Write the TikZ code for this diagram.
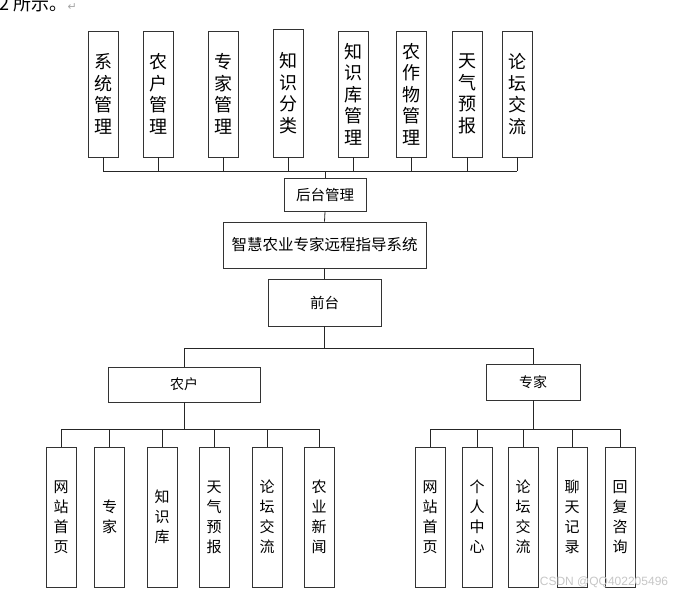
\documentclass[tikz,border=0pt]{standalone}
\usepackage{fontspec}
\newfontfamily\cjk{Noto Sans CJK SC}
\newfontfamily\dejavu{DejaVu Sans}
\setsansfont{Liberation Sans}
\begin{document}
\begin{tikzpicture}[x=1pt,y=-1pt,
  box/.style={draw=black!80, line width=0.8pt, inner sep=0pt, align=center},
  tall/.style={box, minimum width=30pt, minimum height=126pt, font=\cjk\fontsize{18}{21.5}\selectfont},
  low/.style={box, minimum width=30pt, minimum height=140pt, font=\cjk\fontsize{15}{20}\selectfont},
  mid/.style={box, font=\cjk\fontsize{14.5}{16}\selectfont},
  ln/.style={draw=black!85, line width=0.8pt}]
\useasboundingbox (0,0) rectangle (684,596);
% fragment of preceding text
\node[anchor=base west, inner sep=0pt, font=\cjk\fontsize{18}{20}\selectfont] (frag) at (-1,11) {2 所示。};
\node[anchor=base west, inner sep=0pt, font=\dejavu\fontsize{11}{12}\selectfont, text=gray!70] (ret) at (frag.base east) {↵};
% top modules
\node[tall] (t1) at (103,94) {系\\统\\管\\理};
\node[tall] (t2) at (158,94) {农\\户\\管\\理};
\node[tall] (t3) at (223,94) {专\\家\\管\\理};
\node[tall, minimum height=128pt] (t4) at (288,93) {知\\识\\分\\类};
\node[tall] (t5) at (353,94) {知\\识\\库\\管\\理};
\node[tall] (t6) at (411,94) {农\\作\\物\\管\\理};
\node[tall] (t7) at (467,94) {天\\气\\预\\报};
\node[tall] (t8) at (517,94) {论\\坛\\交\\流};
% middle
\node[mid, minimum width=82pt, minimum height=33pt] (ht) at (325,194.5) {后台管理};
\node[mid, minimum width=203pt, minimum height=46pt, font=\cjk\fontsize{15.5}{17}\selectfont] (zh) at (324.5,245) {智慧农业专家远程指导系统};
\node[mid, minimum width=113pt, minimum height=47pt] (qt) at (324.5,302.5) {前台};
\node[mid, minimum width=152pt, minimum height=35pt, font=\cjk\fontsize{14}{16}\selectfont] (nh) at (184,384.5) {农户};
\node[mid, minimum width=94pt, minimum height=36pt, font=\cjk\fontsize{14}{16}\selectfont] (zj) at (533,382) {专家};
% bottom left
\node[low] (l1) at (61,517) {网\\站\\首\\页};
\node[low] (l2) at (109.5,517) {专\\家};
\node[low] (l3) at (162,517) {知\\识\\库};
\node[low] (l4) at (214,517) {天\\气\\预\\报};
\node[low] (l5) at (267,517) {论\\坛\\交\\流};
\node[low] (l6) at (319,517) {农\\业\\新\\闻};
% bottom right
\node[low] (r1) at (430,517) {网\\站\\首\\页};
\node[low] (r2) at (477,517) {个\\人\\中\\心};
\node[low] (r3) at (523,517) {论\\坛\\交\\流};
\node[low] (r4) at (572,517) {聊\\天\\记\\录};
\node[low] (r5) at (620,517) {回\\复\\咨\\询};
% bus coordinates
\coordinate (bus1) at (0,171);
\coordinate (bus2) at (0,348);
\coordinate (bus3) at (0,429);
% top connectors
\foreach \n in {t1,t2,t3,t4,t5,t6,t7,t8}{\draw[ln] (\n.south) -- (\n.south |- bus1);}
\draw[ln] (t1.south |- bus1) -- (t8.south |- bus1);
\draw[ln] (ht.north |- bus1) -- (ht.north);
\draw[ln] (ht.south) -- (zh.north);
\draw[ln] (zh.south) -- (qt.north);
\draw[ln] (qt.south) -- (qt.south |- bus2);
\draw[ln] (nh.north |- bus2) -- (zj.north |- bus2);
\draw[ln] (nh.north |- bus2) -- (nh.north);
\draw[ln] (zj.north |- bus2) -- (zj.north);
% farmer branch
\draw[ln] (nh.south) -- (nh.south |- bus3);
\draw[ln] (l1.north |- bus3) -- (l6.north |- bus3);
\foreach \n in {l1,l2,l3,l4,l5,l6}{\draw[ln] (\n.north |- bus3) -- (\n.north);}
% expert branch
\draw[ln] (zj.south) -- (zj.south |- bus3);
\draw[ln] (r1.north |- bus3) -- (r5.north |- bus3);
\foreach \n in {r1,r2,r3,r4,r5}{\draw[ln] (\n.north |- bus3) -- (\n.north);}
% watermark
\node[inner sep=0pt, font=\sffamily\fontsize{12}{12}\selectfont, text=gray!45] (wm) at (604,582) {CSDN @QQ402205496};
\end{tikzpicture}
\end{document}
